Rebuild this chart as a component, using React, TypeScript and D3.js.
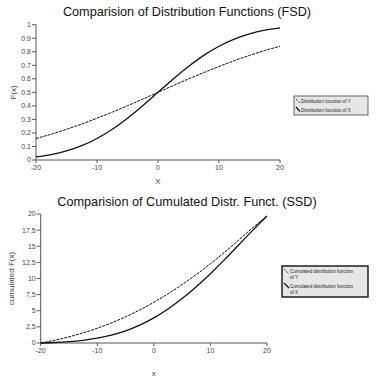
import React from "react";
import * as d3 from "d3";

const xs = [-20, -17.5, -15, -12.5, -10, -7.5, -5, -2.5, 0, 2.5, 5, 7.5, 10, 12.5, 15, 17.5, 20];
const cdfY = [0.159, 0.191, 0.227, 0.266, 0.309, 0.354, 0.401, 0.45, 0.5, 0.55, 0.599, 0.646, 0.691, 0.734, 0.773, 0.809, 0.841];
const cdfX = [0.023, 0.04, 0.067, 0.106, 0.159, 0.227, 0.309, 0.401, 0.5, 0.599, 0.691, 0.773, 0.841, 0.894, 0.933, 0.96, 0.977];
const cumY = [0, 0.43, 0.96, 1.57, 2.29, 3.12, 4.06, 5.12, 6.31, 7.62, 9.06, 10.62, 12.29, 14.07, 15.96, 17.9, 19.7];
const cumX = [0, 0.08, 0.21, 0.42, 0.75, 1.23, 1.89, 2.78, 3.9, 5.28, 6.89, 8.73, 10.75, 12.92, 15.2, 17.5, 19.7];
const xTicks = [-20, -10, 0, 10, 20];
const yTicksTop = [0, 0.1, 0.2, 0.3, 0.4, 0.5, 0.6, 0.7, 0.8, 0.9, 1];
const yTicksBottom = [0, 2.5, 5, 7.5, 10, 12.5, 15, 17.5, 20];

const FONT = "'Liberation Sans', Arial, sans-serif";
const AXIS = "#555";
const LABEL = "#444";

type PanelProps = {
  title: string;
  titleY: number;
  x0: number; x1: number; y0: number; y1: number;
  yDomain: [number, number];
  yTicks: number[];
  fmt: (v: number) => string;
  series: { values: number[]; dash?: string; width: number }[];
  yLabel: string;
  yLabelX: number;
  xLabel: string;
  xLabelY: number;
  legend: React.ReactNode;
};

function Panel(p: PanelProps) {
  const x = d3.scaleLinear().domain([-20, 20]).range([p.x0, p.x1]);
  const y = d3.scaleLinear().domain(p.yDomain).range([p.y1, p.y0]);
  const line = d3.line<[number, number]>().x((d) => x(d[0])).y((d) => y(d[1])).curve(d3.curveMonotoneX);
  return (
    <g fontFamily={FONT}>
      <text x={187} y={p.titleY} textAnchor="middle" fontSize={12.7} fill="#111">{p.title}</text>
      <line x1={p.x0} x2={p.x0} y1={p.y0} y2={p.y1} stroke={AXIS} strokeWidth={1} />
      {p.yTicks.map((t) => (
        <g key={t}>
          <line x1={p.x0 - 4} x2={p.x0} y1={y(t)} y2={y(t)} stroke={AXIS} />
          <text x={p.x0 - 5} y={y(t)} dy="0.35em" textAnchor="end" fontSize={7} fill={LABEL}>{p.fmt(t)}</text>
        </g>
      ))}
      <line x1={p.x0} x2={p.x1} y1={p.y1} y2={p.y1} stroke={AXIS} strokeWidth={1} />
      {xTicks.map((t) => (
        <g key={t}>
          <line x1={x(t)} x2={x(t)} y1={p.y1} y2={p.y1 + 3} stroke={AXIS} />
          <text x={x(t)} y={p.y1 + 10} textAnchor="middle" fontSize={7} fill={LABEL}>{t}</text>
        </g>
      ))}
      <text x={(p.x0 + p.x1) / 2} y={p.xLabelY} textAnchor="middle" fontSize={8} fill={LABEL}>{p.xLabel}</text>
      <text transform={`translate(${p.yLabelX},${(p.y0 + p.y1) / 2}) rotate(-90)`} textAnchor="middle" fontSize={8} fill={LABEL}>{p.yLabel}</text>
      {p.series.map((s, i) => (
        <path key={i} d={line(xs.map((v, j) => [v, s.values[j]] as [number, number])) || ""} fill="none" stroke="#111" strokeWidth={s.width} strokeDasharray={s.dash} />
      ))}
      {p.legend}
    </g>
  );
}

export default function App() {
  const topLegend = (
    <g fontFamily={FONT}>
      <rect x={294} y={96} width={74} height={19} fill="#e6e6e6" stroke="#444" strokeWidth={0.8} />
      <line x1={296} y1={99} x2={300} y2={103} stroke="#111" strokeWidth={0.8} strokeDasharray="1.5,0.8" />
      <text x={301} y={103} fontSize={4.6} fill="#222">Distribution function of Y</text>
      <line x1={296} y1={107} x2={300} y2={111.5} stroke="#111" strokeWidth={1.2} />
      <text x={301} y={111.5} fontSize={4.6} fill="#222">Distribution function of X</text>
    </g>
  );
  const bottomLegend = (
    <g fontFamily={FONT}>
      <rect x={282} y={266} width={86} height={31} fill="#e6e6e6" stroke="#111" strokeWidth={1.4} />
      <line x1={284} y1={269} x2={289} y2={274} stroke="#111" strokeWidth={0.8} strokeDasharray="1.5,0.8" />
      <text x={290} y={273} fontSize={4.6} fill="#222">Cumulated distribution function</text>
      <text x={290} y={279} fontSize={4.6} fill="#222">of Y</text>
      <line x1={284} y1={283} x2={289} y2={288} stroke="#111" strokeWidth={1.2} />
      <text x={290} y={287.5} fontSize={4.6} fill="#222">Cumulated distribution function</text>
      <text x={290} y={293.5} fontSize={4.6} fill="#222">of X</text>
    </g>
  );
  return (
    <svg width={380} height={378} style={{ position: "absolute", left: 0, top: 0, background: "#fff" }}>
      <rect width={380} height={378} fill="#fff" />
      <Panel
        title="Comparision of Distribution Functions (FSD)"
        titleY={15.5}
        x0={36} x1={280} y0={24.7} y1={160}
        yDomain={[0, 1]}
        yTicks={yTicksTop}
        fmt={(v) => String(Math.round(v * 10) / 10)}
        series={[
          { values: cdfY, dash: "3,1", width: 1 },
          { values: cdfX, width: 1.3 },
        ]}
        yLabel="F(x)"
        yLabelX={16}
        xLabel="X"
        xLabelY={184}
        legend={topLegend}
      />
      <Panel
        title="Comparision of Cumulated Distr. Funct. (SSD)"
        titleY={206}
        x0={40.7} x1={267} y0={214} y1={343}
        yDomain={[0, 20]}
        yTicks={yTicksBottom}
        fmt={(v) => String(v).replace(".", ",")}
        series={[
          { values: cumY, dash: "3,1", width: 1 },
          { values: cumX, width: 1.3 },
        ]}
        yLabel="cumulated F(x)"
        yLabelX={14}
        xLabel="x"
        xLabelY={376}
        legend={bottomLegend}
      />
    </svg>
  );
}
